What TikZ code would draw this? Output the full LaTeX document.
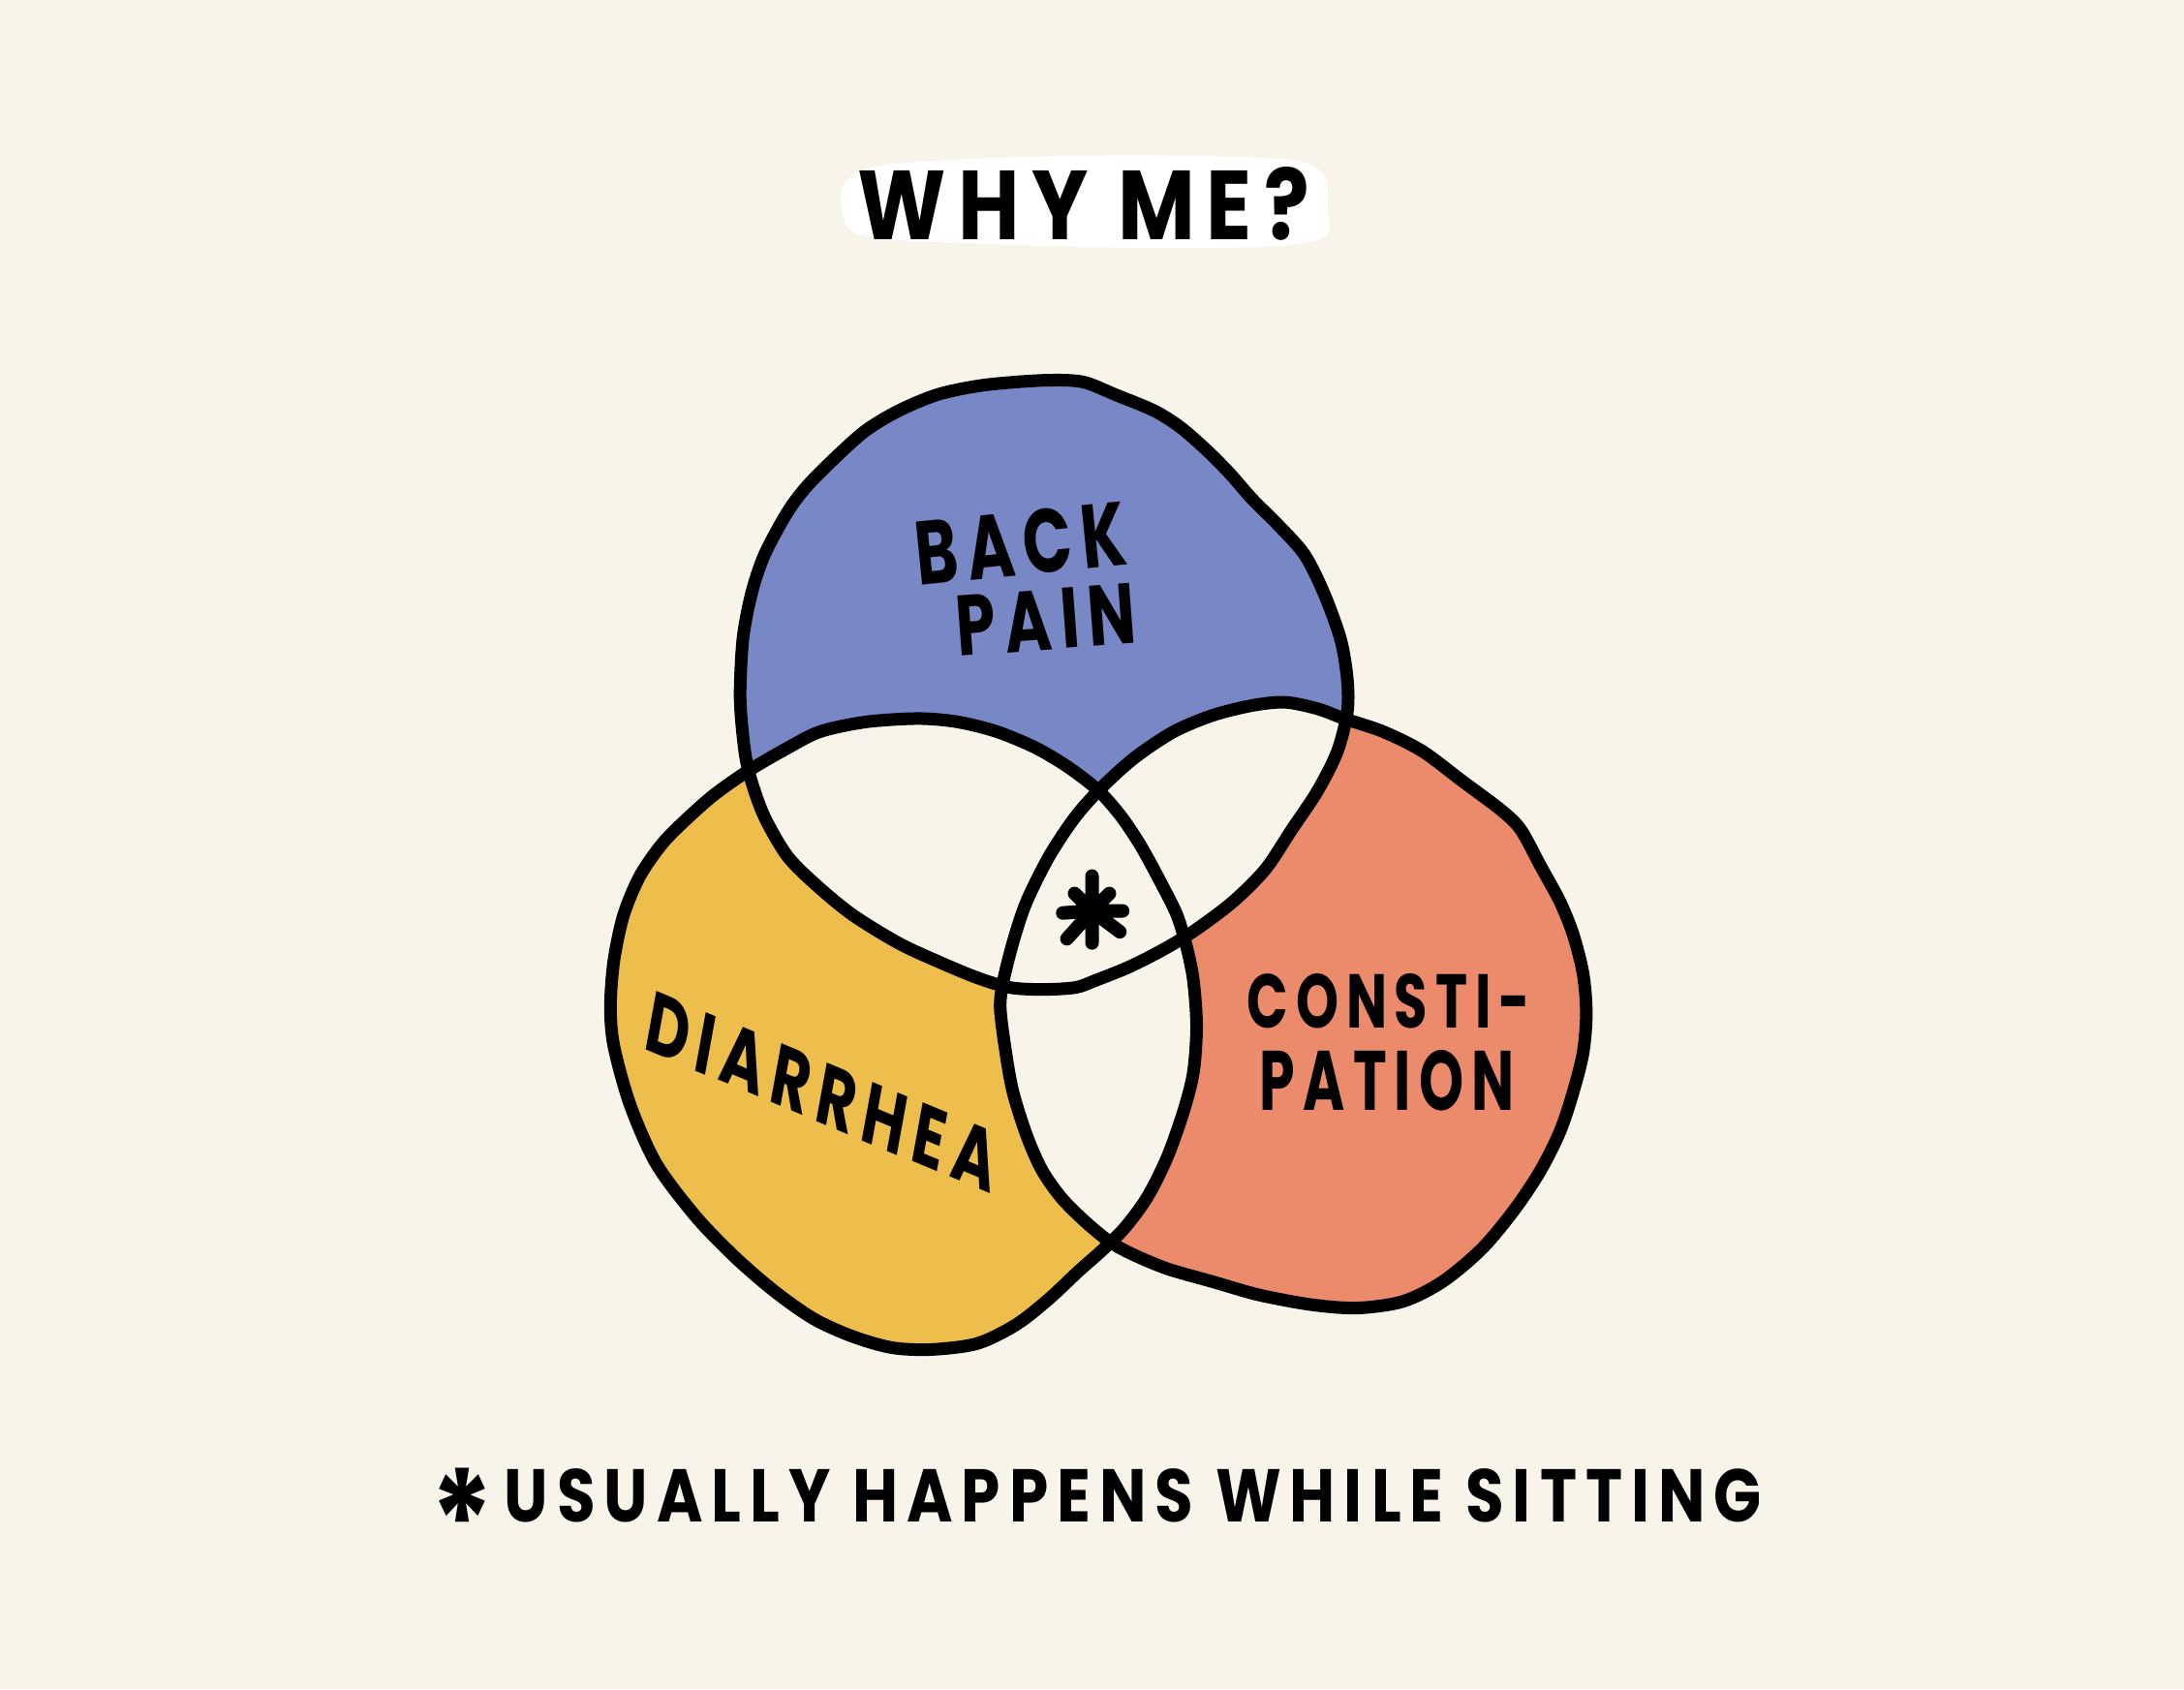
\documentclass[tikz,border=0pt]{standalone}
\usepackage{fontspec}
\usepackage{graphicx}
\newfontfamily\hand[LetterSpace=14]{Poppins}
\definecolor{bg}{HTML}{F8F4EA}
\definecolor{backblue}{HTML}{7888C6}
\definecolor{diayellow}{HTML}{EDBE4C}
\definecolor{conorange}{HTML}{EC8B6B}
\def\toppath{plot[smooth cycle, tension=0.5] coordinates {(531.4,501.8) (533.3,459.5) (539.4,426.6) (548.8,398.4) (565.3,367.8) (579.4,349.0) (600.5,327.8) (621.7,309.0) (645.2,294.9) (673.4,283.2) (706.3,276.5) (748.6,273.1) (776.9,274.1) (800.4,283.2) (828.6,294.9) (847.4,306.7) (866.2,323.1) (882.6,339.6) (899.1,358.4) (917.9,377.2) (936.7,398.4) (950.8,426.6) (962.6,459.5) (967.3,487.7) (967.3,511.2) (960.2,539.4) (946.1,567.6) (927.3,595.8) (908.5,624.1) (885.0,647.6) (856.8,668.7) (833.3,682.8) (809.8,694.6) (786.3,704.0) (772.1,709.0) (748.6,710.4) (725.1,709.0) (701.6,702.0) (673.4,690.3) (645.2,677.2) (612.3,657.0) (586.4,635.8) (565.3,614.7) (548.8,586.4) (539.4,560.6) (534.7,539.4)}}
\def\leftpath{plot[smooth cycle, tension=0.5] coordinates {(537.1,553.5) (565.3,537.1) (588.8,525.3) (621.7,518.3) (659.3,515.9) (687.5,518.3) (715.7,525.3) (744.0,537.1) (767.5,551.2) (788.6,567.6) (805.1,586.4) (819.2,607.6) (833.3,633.5) (845.0,657.0) (852.1,680.5) (856.8,704.0) (859.1,736.9) (856.8,769.8) (849.7,798.0) (838.0,830.9) (823.9,859.2) (808,881) (792,897) (774,913) (753.3,932.4) (729.8,950.9) (701.6,964.6) (668.7,968.9) (640.5,967.6) (612.3,959.6) (584.1,946.8) (555.9,927.0) (527.6,902.5) (499.4,873.3) (471.2,835.6) (452.4,793.3) (440.7,751.0) (438.3,722.8) (440.7,689.9) (447.7,657.0) (459.5,628.8) (475.9,605.2) (494.7,586.4) (513.5,570.0)}}
\def\rightpath{plot[smooth cycle, tension=0.5] coordinates {(791.0,565.3) (814.5,544.1) (842.7,525.3) (870.9,513.5) (899.1,506.5) (922.6,504.2) (946.1,508.9) (964.9,515.9) (993.1,525.3) (1021.3,539.4) (1049.6,560.6) (1077.8,581.7) (1091.9,595.8) (1106.0,621.7) (1120.1,647.6) (1129.5,671.1) (1136.6,699.3) (1138.9,727.5) (1136.6,755.7) (1129.5,783.9) (1120.1,812.1) (1106.0,840.4) (1087.2,868.6) (1063.7,896.8) (1035.5,920.3) (1007.2,934.4) (974.3,939.1) (941.4,936.7) (903.8,929.7) (870.9,920.3) (838.0,910.9) (812,900) (796,891) (779,877) (762,860) (748,840) (737,815) (727,783) (721.4,751.0) (718.1,722.8) (720.4,704.0) (727.5,675.8) (736.9,647.6) (753.3,614.7) (772.1,586.4)}}
\begin{document}
\begin{tikzpicture}[x=1.438pt,y=-1.438pt,
  lbl/.style={inner sep=0pt, text=black},
  ring/.style={draw=black, line width=13pt, line join=round},
  starline/.style={line width=14pt, line cap=round, draw=black}]
\useasboundingbox (0,0) rectangle (1568,1213);
\fill[bg] (0,0) rectangle (1568,1213);
% title highlight
\fill[white] plot[smooth cycle, tension=0.6] coordinates {(608,130) (640,118) (760,112) (900,113) (946,121) (953,148) (944,173) (850,178) (700,175) (620,169) (605,152)};
\node[lbl] (title) at (778,146) {\resizebox{466pt}{75pt}{\hand\bfseries WHY ME?}};
% fills
\fill[backblue] \toppath;
\fill[diayellow] \leftpath;
\fill[conorange] \rightpath;
\begin{scope}\clip \toppath; \fill[bg] \leftpath; \fill[bg] \rightpath; \end{scope}
\begin{scope}\clip \leftpath; \fill[bg] \rightpath; \end{scope}
% outlines
\draw[ring] \toppath;
\draw[ring] \leftpath;
\draw[ring] \rightpath;
% labels
\node[lbl, rotate=5.7] (back) at (733,390) {\resizebox{218pt}{66pt}{\hand\bfseries BACK}};
\node[lbl, rotate=4.3] (pain) at (751,445) {\resizebox{186pt}{62pt}{\hand\bfseries PAIN}};
\node[lbl, rotate=-22.7, xslant=-0.22] (dia) at (590,784) {\resizebox{390pt}{60pt}{\hand\bfseries DIARRHEA}};
\node[lbl] (consti) at (997,719) {\resizebox{292pt}{56pt}{\hand\bfseries CONSTI-}};
\node[lbl] (pation) at (996,776) {\resizebox{263pt}{62pt}{\hand\bfseries PATION}};
% central asterisk
\coordinate (star) at (784,654);
\draw[starline] (star) -- ++(0,-25) (star) -- ++(-12.5,-12.5) (star) -- ++(12.5,-12.5)
  (star) -- ++(-21,1.5) (star) -- ++(22,0) (star) -- ++(-18,20) (star) -- ++(20,15) (star) -- ++(0,23);
% footnote
\node[lbl, anchor=base] (foot) at (787,1093) {\resizebox{1374pt}{56pt}{\hand\bfseries \raisebox{-0.68em}{\scalebox{1.9}{*}}\,USUALLY HAPPENS WHILE SITTING}};
\end{tikzpicture}
\end{document}
